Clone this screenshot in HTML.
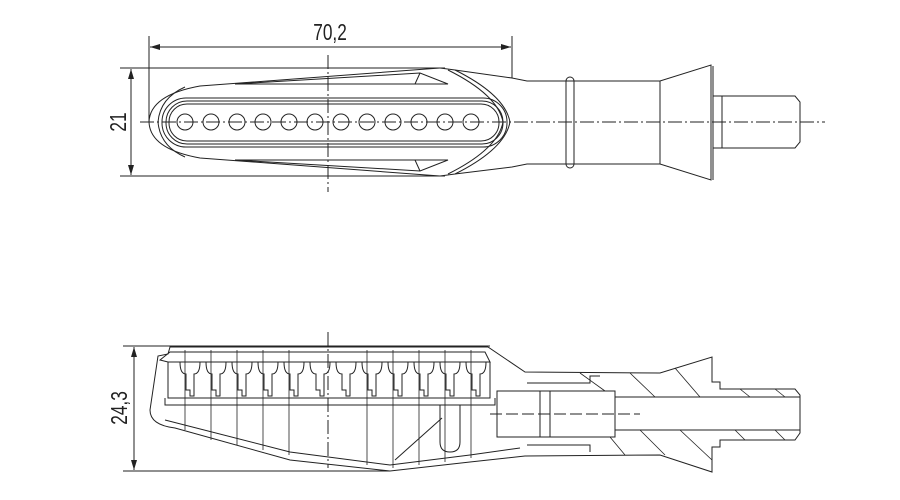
<!DOCTYPE html>
<html><head><meta charset="utf-8"><style>html,body{margin:0;padding:0;background:#fff}svg{display:block}</style></head><body>
<svg width="900" height="500" viewBox="0 0 900 500" xmlns="http://www.w3.org/2000/svg" fill="none" stroke="#222" stroke-width="1">
<defs><marker id="a" viewBox="0 0 10 6" refX="10" refY="3" markerWidth="10" markerHeight="6" orient="auto-start-reverse"><path d="M0,0 L10,3 L0,6 z" fill="#222" stroke="none"/></marker></defs>
<!-- TOP VIEW -->
<line x1="149" y1="36" x2="149" y2="122"/><line x1="512" y1="36" x2="512" y2="78"/>
<line x1="150" y1="47" x2="511" y2="47" marker-start="url(#a)" marker-end="url(#a)"/>
<text transform="translate(330,40) scale(0.75,1)" font-family="Liberation Sans, sans-serif" font-size="23" fill="#222" stroke="none" text-anchor="middle">70,2</text>
<line x1="120" y1="68" x2="445" y2="68"/><line x1="120" y1="176" x2="445" y2="176"/>
<line x1="131" y1="69" x2="131" y2="175" marker-start="url(#a)" marker-end="url(#a)"/>
<text transform="translate(126,122) rotate(-90) scale(0.75,1)" font-family="Liberation Sans, sans-serif" font-size="23" fill="#222" stroke="none" text-anchor="middle">21</text>
<line x1="328" y1="55" x2="328" y2="192" stroke-dasharray="14,3,2,3"/>
<line x1="140" y1="122" x2="825" y2="122" stroke-dasharray="14,3,2,3"/>
<path d="M440,68 L200,86 Q150,95 149,122 Q150,149 200,158 L440,176"/>
<path d="M185,87 Q160,98 158,122 Q160,146 185,157"/>
<path d="M235,84 L420,73 L448,84 L235,84 M420,73 L415,84"/>
<path d="M235,160 L420,171 L448,160 L235,160 M420,171 L415,160"/>
<path d="M440,68 L455,70 Q505,95 510,122 Q505,149 455,174 L440,176"/>
<path d="M448,70 Q498,95 503,122 Q498,149 448,174"/>
<rect x="162" y="98" width="345" height="49" rx="24"/>
<rect x="166" y="101" width="337" height="43" rx="21"/>
<rect x="169" y="104" width="330" height="37" rx="18"/>
<g>
<circle cx="185" cy="122" r="8"/><circle cx="211" cy="122" r="8"/><circle cx="237" cy="122" r="8"/><circle cx="263" cy="122" r="8"/><circle cx="289" cy="122" r="8"/><circle cx="315" cy="122" r="8"/><circle cx="341" cy="122" r="8"/><circle cx="367" cy="122" r="8"/><circle cx="393" cy="122" r="8"/><circle cx="419" cy="122" r="8"/><circle cx="445" cy="122" r="8"/><circle cx="471" cy="122" r="8"/>
</g>
<path d="M455,70 L512,78 L527,81 L660,81 L711,65 L711,180 L660,164 L527,164 L512,167 L455,174"/>
<line x1="713" y1="66" x2="713" y2="180"/><line x1="660" y1="81" x2="660" y2="164"/>
<rect x="566" y="77" width="8" height="91" rx="4"/>
<path d="M713,96 L795,96 L800,102 L800,142 L795,148 L713,148"/>
<line x1="722" y1="96" x2="722" y2="148"/>
<!-- BOTTOM VIEW -->
<line x1="123" y1="346" x2="490" y2="346"/><line x1="123" y1="471" x2="390" y2="471"/>
<line x1="134" y1="347" x2="134" y2="470" marker-start="url(#a)" marker-end="url(#a)"/>
<text transform="translate(127,408) rotate(-90) scale(0.75,1)" font-family="Liberation Sans, sans-serif" font-size="23" fill="#222" stroke="none" text-anchor="middle">24,3</text>
<line x1="328" y1="332" x2="328" y2="468" stroke-dasharray="14,3,2,3"/>
<path d="M168,354 L170,347 L488,347 L525,372 L660,373 L712,357 L712,382 L720,382 L720,389 L795,389 L800,395 L800,433 L795,440 L720,440 L720,447 L712,447 L712,472 L660,455 L525,456 L470,462 L390,471 L290,460 L175,428 Q150,425 150,410 L158,356 Z"/>
<path d="M160,360 L170,352 L485,352 L490,362 L168,362 Z"/>
<path d="M168,362 L168,398 L490,398 L490,362"/>
<path d="M165,398 L165,405 L495,405 L495,398"/>
<path d="M165,420 L290,452 L390,465 L470,455 L520,448"/>
<g id="c">
<path d="M180,362 Q180,374 186,374 L186,390 L190,390 L190,396 L194,396 L194,390 L194,374 Q200,374 200,362"/>
</g>
<use href="#c" x="26"/><use href="#c" x="52"/><use href="#c" x="78"/><use href="#c" x="104"/><use href="#c" x="130"/><use href="#c" x="156"/><use href="#c" x="182"/><use href="#c" x="208"/><use href="#c" x="234"/><use href="#c" x="260"/><use href="#c" x="286"/>
<g stroke-width="0.8">
<line x1="185" y1="350" x2="185" y2="430"/><line x1="211" y1="350" x2="211" y2="440"/><line x1="237" y1="350" x2="237" y2="445"/><line x1="263" y1="350" x2="263" y2="450"/><line x1="289" y1="350" x2="289" y2="455"/><line x1="367" y1="350" x2="367" y2="465"/><line x1="393" y1="350" x2="393" y2="468"/><line x1="419" y1="350" x2="419" y2="465"/><line x1="445" y1="350" x2="445" y2="462"/><line x1="471" y1="350" x2="471" y2="458"/>
</g>
<path d="M440,405 L440,442 Q440,452 450,452 Q460,452 460,442 L460,405"/>
<line x1="395" y1="460" x2="442" y2="418"/>
<path d="M497,391 L615,391 L615,437 L497,437 Z"/>
<path d="M527,383 L590,383 L590,376 L600,376 M527,445 L590,445 L590,452"/>
<line x1="540" y1="391" x2="540" y2="437"/><line x1="550" y1="391" x2="550" y2="437"/>
<line x1="615" y1="397" x2="800" y2="397"/><line x1="615" y1="430" x2="800" y2="430"/>
<line x1="490" y1="414" x2="640" y2="414" stroke-dasharray="12,4"/>
<g stroke-width="0.8">
<line x1="580" y1="373" x2="605" y2="391"/><line x1="630" y1="373" x2="655" y2="397"/><line x1="675" y1="368" x2="700" y2="397"/><line x1="740" y1="389" x2="750" y2="397"/><line x1="775" y1="389" x2="785" y2="397"/>
<line x1="610" y1="437" x2="625" y2="455"/><line x1="640" y1="430" x2="665" y2="455"/><line x1="680" y1="430" x2="712" y2="460"/><line x1="735" y1="430" x2="745" y2="440"/><line x1="775" y1="430" x2="785" y2="440"/>
</g>
</svg>
</body></html>
